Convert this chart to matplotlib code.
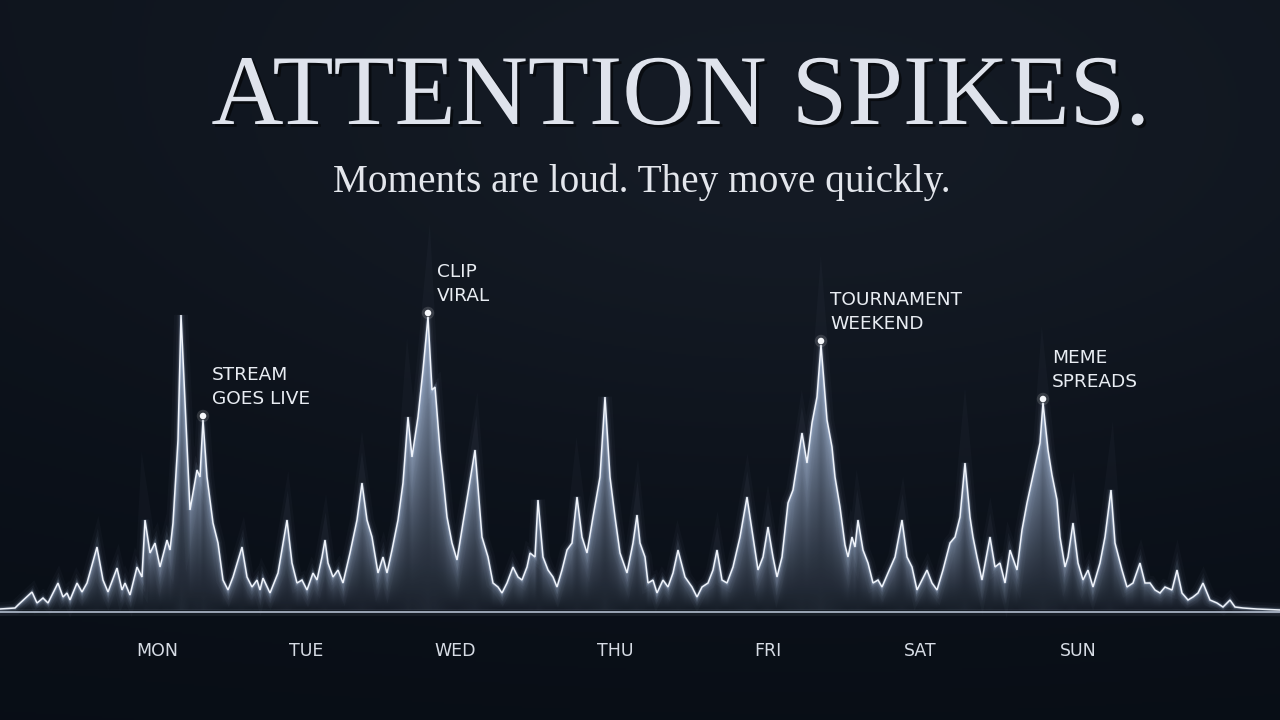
import numpy as np
import matplotlib
matplotlib.use("Agg")
import matplotlib.pyplot as plt
import matplotlib.patheffects as pe

# ---------------- data ----------------
t = [0, 15, 18, 32, 37, 43, 48, 58, 63, 67, 70, 77, 82, 87, 97, 103, 108, 117, 122, 125, 130,
     137, 142, 145, 150, 155, 160, 167, 170, 173, 178, 181, 190, 197, 200, 203, 207, 213, 218,
     223, 228, 233, 242, 247, 252, 257, 260, 263, 270, 278, 287, 292, 297, 302, 307, 313, 317,
     322, 325, 328, 333, 338, 343, 350, 357, 362, 367, 372, 378, 383, 387, 392, 398, 403, 408,
     412, 418, 423, 428, 432, 435, 440, 443, 447, 452, 457, 463, 468, 475, 482, 488, 493, 498,
     502, 507, 513, 518, 522, 527, 530, 535, 538, 543, 548, 553, 557, 562, 567, 572, 577, 582,
     587, 593, 600, 605, 610, 615, 620, 627, 633, 637, 640, 645, 648, 653, 657, 663, 668, 673,
     678, 685, 692, 697, 702, 708, 713, 717, 722, 727, 733, 740, 747, 752, 758, 763, 768, 773,
     777, 782, 788, 793, 802, 807, 812, 817, 821, 827, 832, 835, 840, 845, 848, 852, 855, 858,
     863, 868, 873, 878, 882, 888, 895, 902, 907, 912, 917, 922, 927, 932, 937, 943, 950, 955,
     960, 965, 970, 973, 977, 982, 987, 990, 995, 1000, 1005, 1010, 1017, 1022, 1027, 1032,
     1037, 1040, 1043, 1048, 1052, 1057, 1060, 1065, 1068, 1073, 1078, 1083, 1088, 1093, 1100,
     1105, 1111, 1115, 1122, 1127, 1133, 1140, 1145, 1150, 1155, 1160, 1165, 1172, 1177, 1182,
     1188, 1193, 1198, 1203, 1210, 1217, 1223, 1230, 1235, 1243, 1257, 1280]
attention = [1, 2, 5, 18, 7, 12, 7, 27, 13, 17, 10, 27, 18, 27, 63, 30, 18, 42, 20, 27, 15,
             43, 33, 90, 57, 67, 43, 70, 60, 87, 170, 295, 100, 140, 133, 190, 133, 87, 67,
             30, 20, 33, 63, 33, 23, 30, 20, 32, 17, 37, 90, 47, 27, 30, 20, 37, 30,
             53, 70, 47, 33, 40, 27, 57, 90, 127, 90, 73, 37, 53, 37, 60, 90, 127, 193,
             153, 193, 240, 293, 220, 223, 160, 133, 93, 67, 50, 87, 117, 160, 73, 53, 27, 23,
             17, 27, 43, 33, 30, 43, 57, 53, 110, 53, 40, 33, 23, 40, 60, 67, 113, 73,
             57, 93, 133, 213, 133, 93, 57, 37, 67, 95, 67, 53, 27, 30, 17, 30, 23, 37,
             60, 33, 23, 13, 23, 27, 40, 60, 30, 27, 43, 73, 113, 80, 40, 53, 83, 53,
             33, 53, 107, 120, 177, 147, 187, 213, 265, 190, 163, 133, 103, 65, 53, 73, 63, 90,
             60, 47, 27, 30, 23, 37, 53, 90, 53, 43, 20, 30, 40, 27, 20, 40, 67, 73,
             93, 147, 93, 73, 53, 30, 57, 73, 43, 47, 27, 60, 40, 80, 107, 130,
             153, 167, 207, 160, 135, 110, 73, 43, 53, 87, 47, 30, 40, 23, 47,
             73, 120, 67, 40, 23, 27, 47, 27, 27, 20, 17, 23, 20, 40, 17,
             10, 13, 17, 27, 10, 7, 3, 10, 3, 2, 1, 0]

day_labels = ["MON", "TUE", "WED", "THU", "FRI", "SAT", "SUN"]
day_pos = [157, 306, 455, 615, 768, 920, 1078]

event_t = [203, 428, 821, 1043]
event_labels = ["STREAM\nGOES LIVE", "CLIP\nVIRAL", "TOURNAMENT\nWEEKEND", "MEME\nSPREADS"]

title = "ATTENTION SPIKES."
subtitle = "Moments are loud. They move quickly."

# ---------------- figure ----------------
W, H = 1280, 720
fig = plt.figure(figsize=(12.8, 7.2), dpi=100)
fig.patch.set_facecolor("#0b121d")

# background gradient
bg = fig.add_axes([0, 0, 1, 1])
bg.set_axis_off()
yy, xx = np.mgrid[0:1:360j, 0:1:640j]
glow = np.exp(-(((xx - 0.62) / 0.55) ** 2 + ((yy - 0.25) / 0.45) ** 2))
shade = 0.5 + 0.5 * glow - 0.3 * yy
base_dark = np.array([0.02, 0.04, 0.07])
base_light = np.array([0.085, 0.11, 0.15])
img = base_dark[None, None, :] + (base_light - base_dark)[None, None, :] * np.clip(shade, 0, 1)[..., None]
bg.imshow(img, extent=(0, 1, 0, 1), aspect="auto", origin="upper", zorder=0)
bg.set_xlim(0, 1)
bg.set_ylim(0, 1)

ax = fig.add_axes([0, 0, 1, 1])
ax.set_axis_off()
ax.patch.set_alpha(0)
ax.set_xlim(0, W)
ax.set_ylim(-(H - 610), 610)

tt = np.asarray(t, float)
vv = np.asarray(attention, float)

# gradient fill under the curve (brighter just below the line, fading to the baseline)
gx = np.linspace(0, W, 1280)
gy = np.linspace(0, 320, 320)
GX, GY = np.meshgrid(gx, gy)
HX = np.interp(GX, tt, vv)
rel = np.clip(GY / np.maximum(HX, 1), 0, 1)
strength = 0.38 + 0.62 * np.clip(HX / 300, 0, 1) ** 0.5
alpha = (0.14 + 0.72 * rel ** 1.4) * strength
rgba = np.zeros(GX.shape + (4,))
rgba[..., 0] = 0.66
rgba[..., 1] = 0.74
rgba[..., 2] = 0.86
rgba[..., 3] = np.clip(alpha, 0, 1)
fillimg = ax.imshow(rgba, extent=(0, W, 0, 320), origin="lower", aspect="auto", zorder=2,
                    interpolation="bilinear")
clip = ax.fill(np.r_[tt, tt[-1], tt[0]], np.r_[vv, 0, 0], facecolor="none", edgecolor="none")[0]
fillimg.set_clip_path(clip)

# glow + line
for lw, a in [(10, 0.03), (6, 0.05), (3.5, 0.10), (2.2, 0.20)]:
    ax.plot(tt, vv, color="#b3c6e4", lw=lw, alpha=a, solid_joinstyle="miter", zorder=3)
ax.plot(tt, vv, color="#f0f4fb", lw=1.1, solid_joinstyle="miter", zorder=4)

# baseline
ax.plot([0, W], [-2, -2], color="#b4bfd0", lw=1.4, alpha=0.85, zorder=5)
ax.plot([0, W], [-2, -2], color="#aab6c8", lw=5, alpha=0.08, zorder=5)

# event markers and labels
for et, lab in zip(event_t, event_labels):
    ev = vv[list(tt).index(et)]
    ax.scatter([et], [ev + 4], s=22, color="#f4f6fa", zorder=6, edgecolors="none")
    ax.scatter([et], [ev + 4], s=80, color="#ffffff", alpha=0.15, zorder=6, edgecolors="none")
    ax.annotate(lab, xy=(et, ev), xytext=(9, 12), textcoords="offset pixels",
                ha="left", va="bottom", fontsize=13.3, family="DejaVu Sans",
                color="#e9edf3", linespacing=1.45, zorder=7)

# day labels
for d, p in zip(day_labels, day_pos):
    ax.text(p, -41, d, ha="center", va="center", fontsize=12.5, family="DejaVu Sans",
            color="#d7dce5", zorder=7)

# titles
fig.text(0.532, 1 - 100 / H, title, ha="center", va="center", fontsize=72,
         family="Liberation Serif", color="#dfe3ec",
         path_effects=[pe.withSimplePatchShadow(offset=(2, -2), shadow_rgbFace="#000000", alpha=0.5)])
fig.text(642 / W, 1 - 182 / H, subtitle, ha="center", va="center", fontsize=28.3,
         family="Liberation Serif", color="#e3e6ec")

fig.savefig("out.png", dpi=100, facecolor=fig.get_facecolor())
